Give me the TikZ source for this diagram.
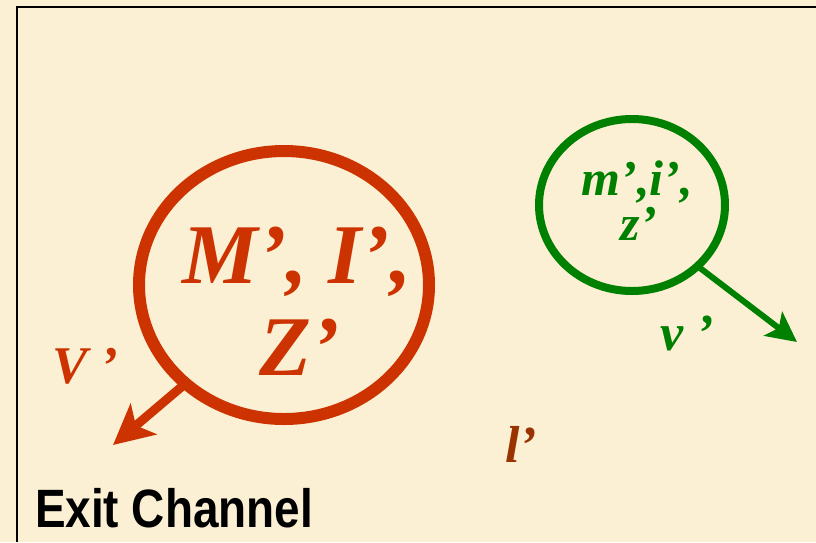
\documentclass[tikz,border=0pt]{standalone}
\usepackage{fontspec}
\setmainfont{Liberation Serif}
\newfontfamily\labelsans{Liberation Sans}
\usetikzlibrary{shapes.geometric,arrows.meta}
\definecolor{bgbeige}{HTML}{FCF0D4}
\definecolor{nucred}{HTML}{CC3300}
\definecolor{nucgreen}{HTML}{008000}
\definecolor{lbrown}{HTML}{993300}
\tikzset{
  ring/.style={ellipse, draw, inner sep=0pt, outer sep=0pt},
  lbl/.style={inner sep=0pt, outer sep=0pt},
}
\begin{document}
\begin{tikzpicture}[x=1pt,y=-1pt]
\fill[bgbeige] (0,0) rectangle (816,542);
\useasboundingbox (0,0) rectangle (816,542);
\draw[line width=2pt, black] (16.5,542) -- (16.5,7) -- (816,7);

% heavy nucleus
\node[ring, nucred, line width=12pt, minimum width=290pt, minimum height=268pt] (heavy) at (284,285) {};
\node[lbl, nucred, anchor=base, font=\fontsize{85}{92}\selectfont\bfseries\itshape] (heavyA) at (297,283) {M’, I’,};
\node[lbl, nucred, anchor=base, font=\fontsize{85}{92}\selectfont\bfseries\itshape] (heavyB) at (300,375) {Z’};
\coordinate (heavyTip) at (113,445);
\draw[nucred, line width=9pt, -{Stealth[length=40pt, width=40pt, inset=10pt]}] (heavy.225) -- (heavyTip);
\node[lbl, nucred, anchor=base west, font=\fontsize{53}{60}\selectfont\bfseries\itshape] (heavyV) at (52,383) {V ’};

% light particle
\node[ring, nucgreen, line width=8pt, minimum width=186pt, minimum height=172pt] (light) at (632,205) {};
\node[lbl, nucgreen, anchor=base, font=\fontsize{50}{55}\selectfont\bfseries\itshape] (lightA) at (637,195) {m’,i’,};
\node[lbl, nucgreen, anchor=base, font=\fontsize{50}{55}\selectfont\bfseries\itshape] (lightB) at (639,240) {z’};
\coordinate (lightTip) at (797,342);
\draw[nucgreen, line width=6pt, -{Stealth[length=30pt, width=30pt, inset=7pt]}] (light.-43) -- (lightTip);
\node[lbl, nucgreen, anchor=base west, font=\fontsize{52}{58}\selectfont\bfseries\itshape] (lightV) at (660,350) {v ’};

% angular momentum
\node[lbl, lbrown, anchor=base west, font=\fontsize{52}{58}\selectfont\bfseries\itshape] (ell) at (505,462) {l’};

% title
\node[lbl, black, anchor=base west, font=\labelsans\fontsize{54}{60}\selectfont\bfseries] (title) at (35,527) {\scalebox{0.85}[1]{Exit Channel}};
\end{tikzpicture}
\end{document}
